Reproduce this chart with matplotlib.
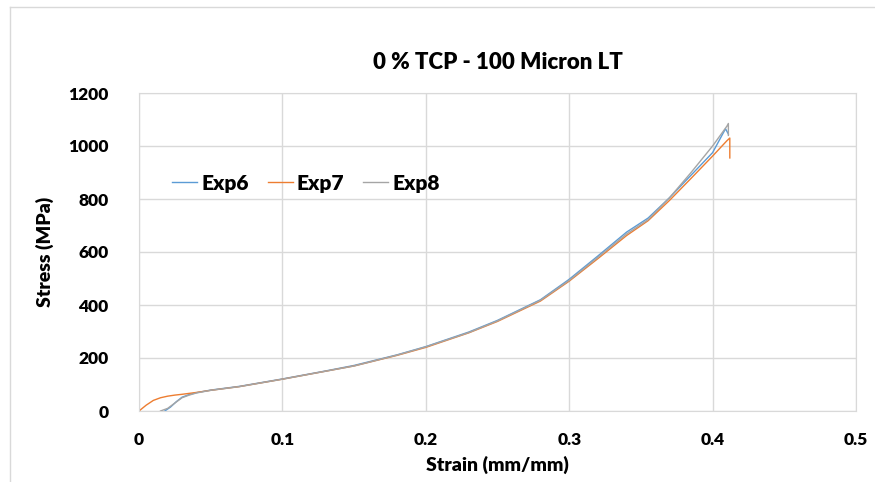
import matplotlib.pyplot as plt
from matplotlib.lines import Line2D

# Exp6 (blue)
exp6_strain = [0.018, 0.022, 0.026, 0.03, 0.035, 0.04, 0.05, 0.07, 0.1, 0.13, 0.15, 0.18, 0.2,
               0.23, 0.25, 0.28, 0.3, 0.32, 0.34, 0.355, 0.37, 0.385, 0.4, 0.409, 0.411]
exp6_stress = [0, 15, 35, 52, 62, 69, 79, 93, 121, 151, 172, 212, 243,
               298, 342, 420, 497, 585, 675, 728, 805, 890, 975, 1065, 1045]

# Exp7 (orange)
exp7_strain = [0, 0.005, 0.01, 0.015, 0.02, 0.025, 0.03, 0.04, 0.05, 0.07, 0.1, 0.13, 0.15, 0.18,
               0.2, 0.23, 0.25, 0.28, 0.3, 0.32, 0.34, 0.355, 0.37, 0.385, 0.4, 0.41, 0.412, 0.412]
exp7_stress = [0, 22, 40, 50, 56, 60, 63, 70, 78, 92, 120, 150, 170, 210,
               240, 295, 338, 415, 490, 575, 662, 718, 795, 878, 962, 1020, 1030, 955]

# Exp8 (grey)
exp8_strain = [0.015, 0.02, 0.025, 0.03, 0.035, 0.04, 0.05, 0.07, 0.1, 0.13, 0.15, 0.18, 0.2,
               0.23, 0.25, 0.28, 0.3, 0.32, 0.34, 0.355, 0.37, 0.385, 0.4, 0.41, 0.411, 0.411]
exp8_stress = [0, 10, 30, 50, 60, 68, 78, 92, 120, 150, 170, 211, 242,
               296, 340, 418, 493, 580, 668, 722, 805, 900, 1000, 1075, 1085, 1040]

plt.rcParams['font.family'] = ['Lato', 'DejaVu Sans']

fig = plt.figure(figsize=(8.75, 4.82), dpi=100)
ax = fig.add_axes([139 / 875, 1 - 411 / 482, (856 - 139) / 875, (411 - 93) / 482])

ax.plot(exp6_strain, exp6_stress, color='#5B9BD5', lw=1.0, label='Exp6')
ax.plot(exp7_strain, exp7_stress, color='#ED7D31', lw=1.0, label='Exp7')
ax.plot(exp8_strain, exp8_stress, color='#A5A5A5', lw=1.0, label='Exp8')

ax.set_xlim(0, 0.5)
ax.set_ylim(0, 1200)
ax.set_xticks([0, 0.1, 0.2, 0.3, 0.4, 0.5])
ax.set_xticklabels(['0', '0.1', '0.2', '0.3', '0.4', '0.5'])
ax.set_yticks(range(0, 1201, 200))
ax.grid(True, color='#D9D9D9', lw=1)
ax.set_axisbelow(True)
for s in ax.spines.values():
    s.set_color('#D9D9D9')
ax.tick_params(length=0, labelsize=12.5)
for lab in ax.get_xticklabels() + ax.get_yticklabels():
    lab.set_fontweight('heavy')
ax.tick_params(axis='x', pad=15)
ax.tick_params(axis='y', pad=22)

ax.set_xlabel('Strain (mm/mm)', fontsize=14, fontweight='heavy', labelpad=6)
ax.set_ylabel('Stress (MPa)', fontsize=14, fontweight='heavy', labelpad=10)
ax.set_title('0 % TCP - 100 Micron LT', fontsize=16, fontweight='heavy', pad=17)

leg = ax.legend(loc='upper left', bbox_to_anchor=(0.02, 0.805), ncol=3, frameon=False,
                prop={'weight': 'heavy', 'size': 15}, handlelength=1.2, handletextpad=0.2,
                columnspacing=0.9)

# chart area border
fig.add_artist(Line2D([10 / 875, 1], [1 - 7 / 482, 1 - 7 / 482], color='#D9D9D9', lw=1))
fig.add_artist(Line2D([10 / 875, 10 / 875], [0, 1 - 7 / 482], color='#D9D9D9', lw=1))

fig.savefig('out.png', dpi=100)
